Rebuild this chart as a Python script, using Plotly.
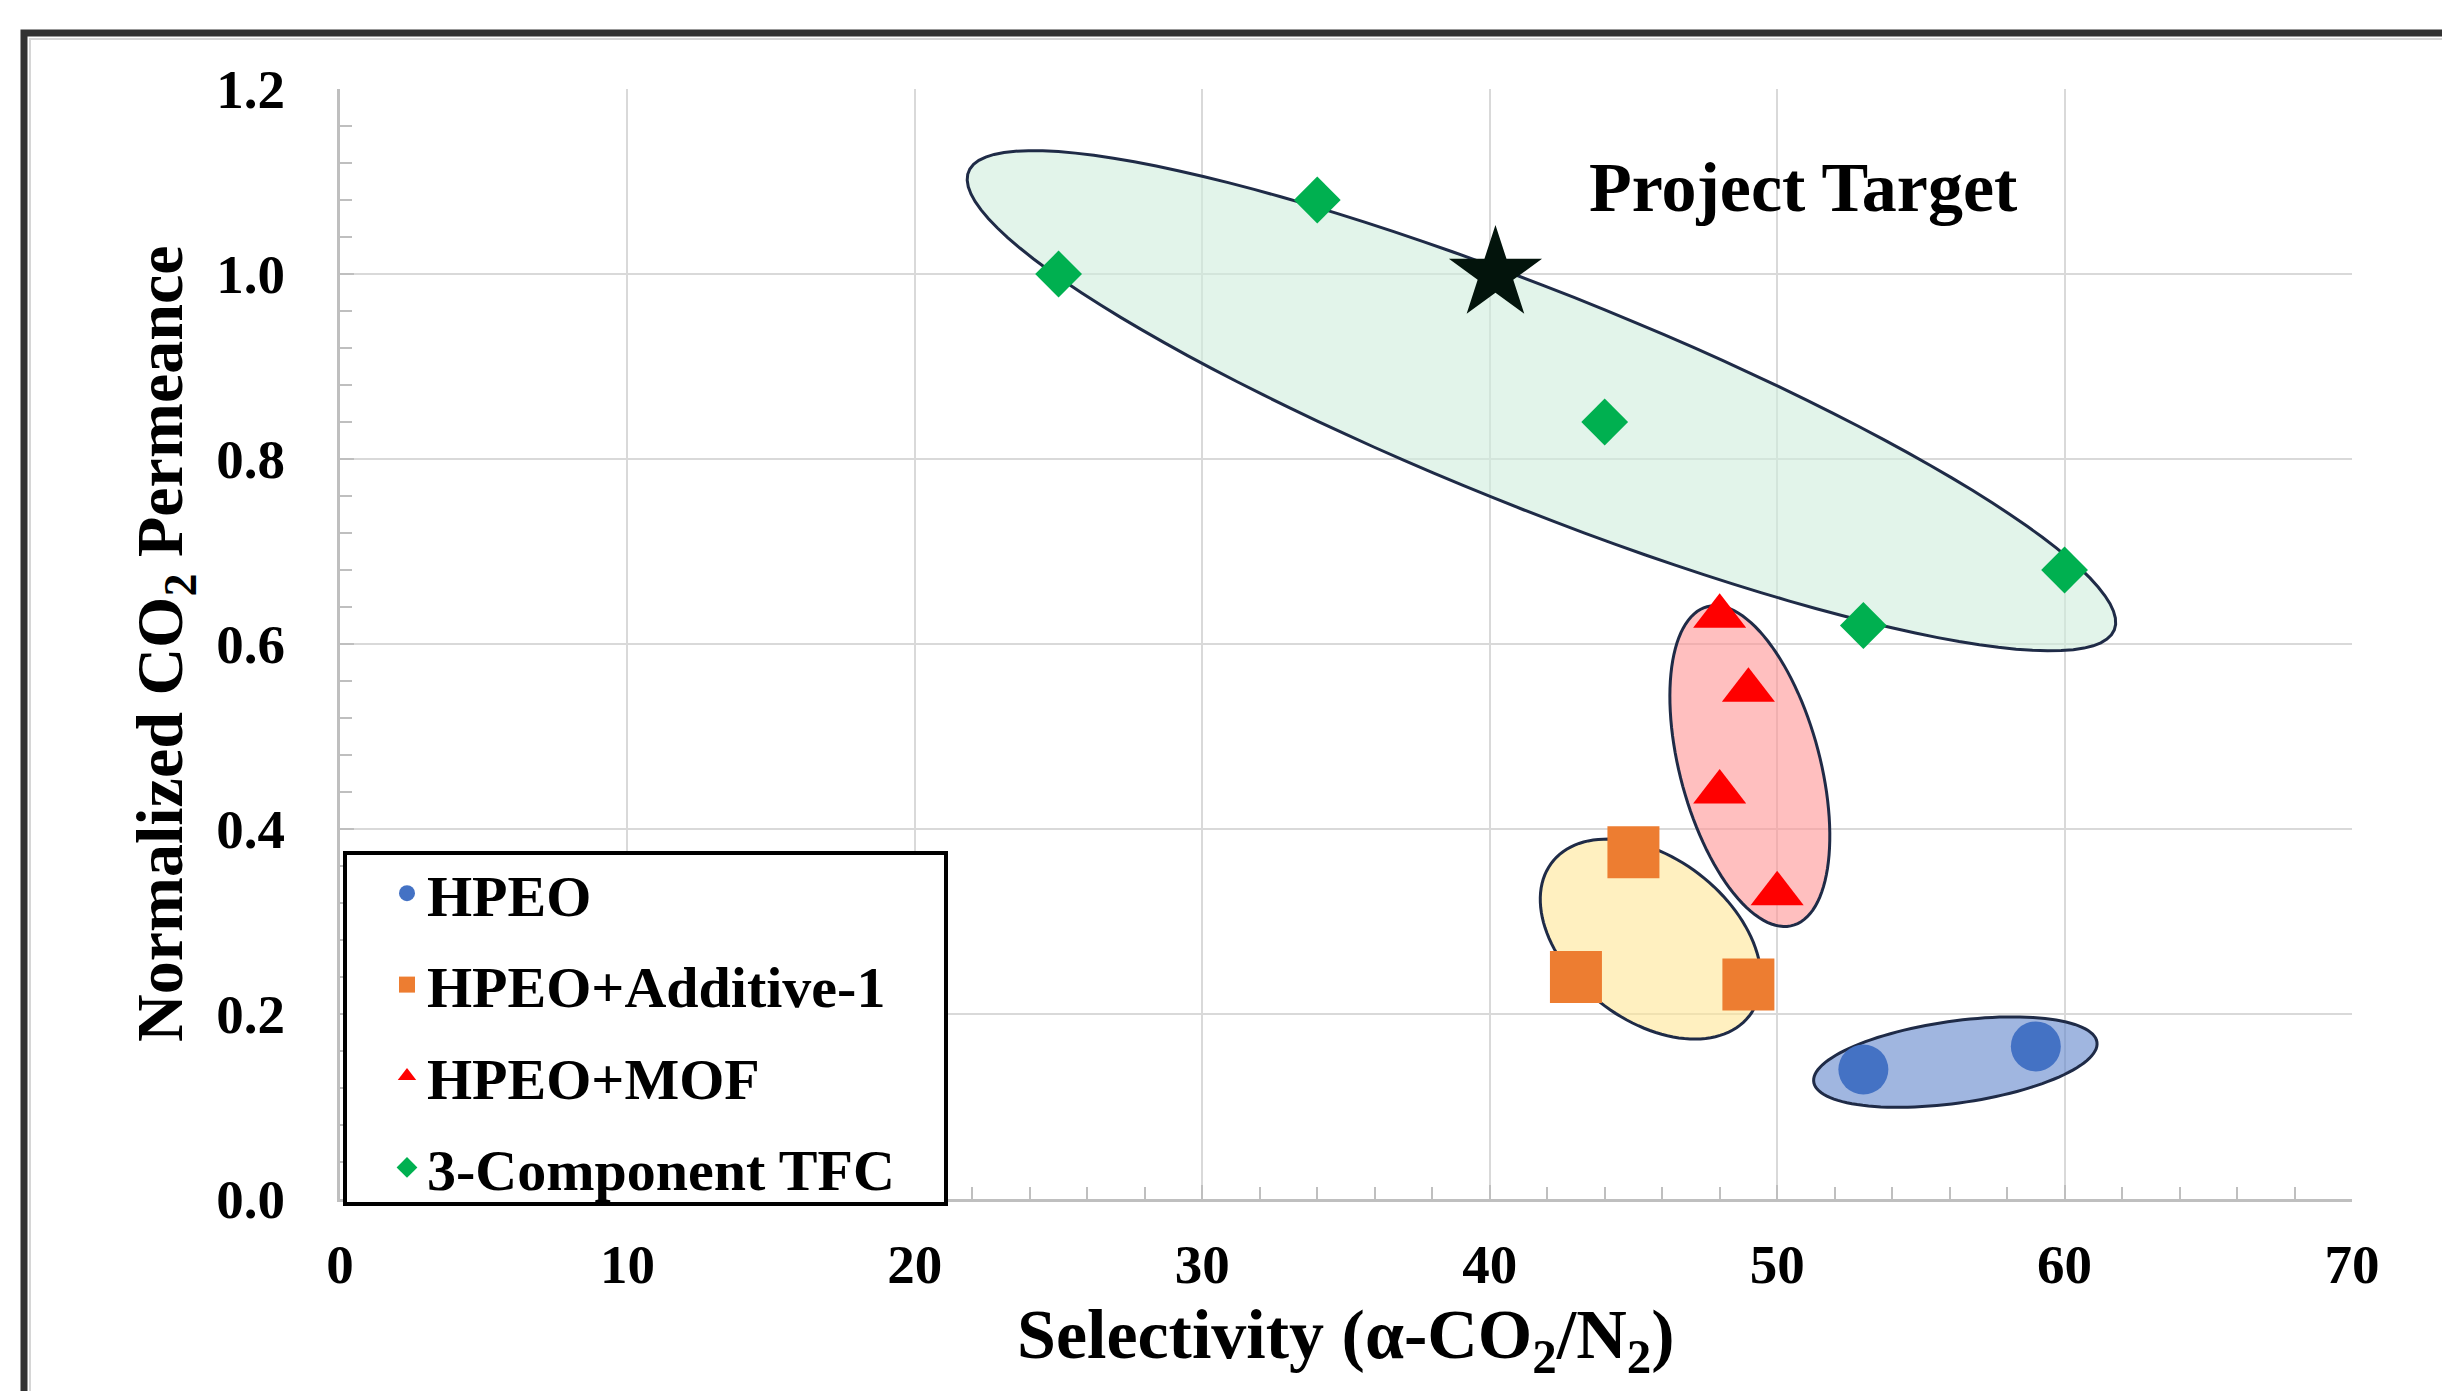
import numpy as np
import plotly.graph_objects as go

# --- values ---
series_names = ['HPEO', 'HPEO+Additive-1', 'HPEO+MOF', '3-Component TFC']

hpeo_x = [53.0, 59.0]
hpeo_y = [0.14, 0.165]

additive_x = [45.0, 43.0, 49.0]
additive_y = [0.375, 0.24, 0.232]

mof_x = [48.0, 49.0, 48.0, 50.0]
mof_y = [0.63, 0.55, 0.44, 0.33]

tfc_x = [25.0, 34.0, 44.0, 53.0, 60.0]
tfc_y = [1.0, 1.08, 0.84, 0.62, 0.68]

target_x = [40.2]
target_y = [1.0]
target_label = 'Project Target'

x_range = [0, 70]
y_range = [0, 1.2]

# --- figure geometry (pixels) ---
W, H = 2442, 1391
L, R, T, B = 340, 90, 89, 192
plot_w = W - L - R
plot_h = H - T - B
kx = plot_w / (x_range[1] - x_range[0])   # px per x unit
ky = plot_h / (y_range[1] - y_range[0])   # px per y unit

SERIF = 'Liberation Serif'
NAVY = '#1f2b47'


def px_to_paper_x(px):
    return (px - L) / plot_w


def px_to_paper_y(py):
    return (H - B - py) / plot_h


def ellipse_path(cx, cy, a_px, b_px, angle_deg, n=120):
    """ellipse drawn in pixel space, returned as an svg path in data units"""
    phi = np.radians(angle_deg)
    t = np.linspace(0, 2 * np.pi, n)
    dx = a_px * np.cos(t) * np.cos(phi) - b_px * np.sin(t) * np.sin(phi)
    dy = a_px * np.cos(t) * np.sin(phi) + b_px * np.sin(t) * np.cos(phi)
    xs = cx + dx / kx
    ys = cy + dy / ky
    pts = [f'{x:.4f},{y:.5f}' for x, y in zip(xs, ys)]
    return 'M' + 'L'.join(pts) + 'Z'


# group outlines: centre (data), semi-axes (px), tilt (deg), fill
group_ellipses = [
    dict(c=(41.8, 0.863), a=617, b=108, ang=-21.8, fill='rgba(207,237,220,0.6)'),
    dict(c=(49.05, 0.468), a=165, b=70, ang=105, fill='rgba(255,148,148,0.6)'),
    dict(c=(45.6, 0.281), a=125, b=81, ang=-38, fill='rgba(255,230,150,0.6)'),
    dict(c=(56.2, 0.148), a=143, b=41, ang=8, fill='rgba(97,133,203,0.6)'),
]

fig = go.Figure()

fig.add_trace(go.Scatter(x=hpeo_x, y=hpeo_y, mode='markers', name=series_names[0],
                         legendgroup='g1',
                         marker=dict(symbol='circle', size=50, color='#4472c4')))
fig.add_trace(go.Scatter(x=additive_x, y=additive_y, mode='markers', name=series_names[1],
                         legendgroup='g2',
                         marker=dict(symbol='square', size=52, color='#ed7d31')))
fig.add_trace(go.Scatter(x=mof_x, y=mof_y, mode='markers', name=series_names[2],
                         legendgroup='g3',
                         marker=dict(symbol='triangle-up', size=46, color='#ff0000')))
fig.add_trace(go.Scatter(x=tfc_x, y=tfc_y, mode='markers', name=series_names[3],
                         legendgroup='g4',
                         marker=dict(symbol='diamond', size=36, color='#00b050')))
fig.add_trace(go.Scatter(x=target_x, y=target_y, mode='markers', name=target_label,
                         showlegend=False,
                         marker=dict(symbol='star', size=70, color='#03140c')))

shapes = []
for e in group_ellipses:
    shapes.append(dict(type='path', xref='x', yref='y', layer='between',
                       path=ellipse_path(e['c'][0], e['c'][1], e['a'], e['b'], e['ang']),
                       fillcolor=e['fill'], line=dict(color=NAVY, width=3)))

# outer frame of the picture
shapes.append(dict(type='rect', xref='paper', yref='paper', layer='below',
                   x0=px_to_paper_x(24), x1=px_to_paper_x(2600),
                   y0=px_to_paper_y(1500), y1=px_to_paper_y(33),
                   line=dict(color='#333333', width=7), fillcolor='rgba(0,0,0,0)'))
shapes.append(dict(type='rect', xref='paper', yref='paper', layer='below',
                   x0=px_to_paper_x(30), x1=px_to_paper_x(2600),
                   y0=px_to_paper_y(1500), y1=px_to_paper_y(39),
                   line=dict(color='#d6d6d6', width=2), fillcolor='rgba(0,0,0,0)'))
# legend box
shapes.append(dict(type='rect', xref='paper', yref='paper', layer='above',
                   x0=px_to_paper_x(345), x1=px_to_paper_x(946),
                   y0=px_to_paper_y(1204), y1=px_to_paper_y(853),
                   line=dict(color='black', width=4), fillcolor='white'))

axis_common = dict(
    showgrid=True, gridcolor='#d9d9d9', gridwidth=2,
    showline=True, linecolor='#bfbfbf', linewidth=3,
    ticks='inside', ticklen=14, tickwidth=2, tickcolor='#bfbfbf',
    zeroline=False,
    tickfont=dict(family=SERIF, size=55, color='black', weight='bold'),
)

fig.update_layout(
    width=W, height=H,
    margin=dict(l=L, r=R, t=T, b=B),
    paper_bgcolor='white', plot_bgcolor='white',
    xaxis=dict(range=x_range, dtick=10, tick0=0, ticklabelstandoff=15,
               minor=dict(dtick=2, ticks='inside', ticklen=12, tickwidth=2,
                          tickcolor='#bfbfbf', showgrid=False),
               **axis_common),
    yaxis=dict(range=y_range, dtick=0.2, tick0=0, tickformat='.1f', ticklabelstandoff=41,
               minor=dict(dtick=0.04, ticks='inside', ticklen=12, tickwidth=2,
                          tickcolor='#bfbfbf', showgrid=False),
               **axis_common),
    shapes=shapes,
    showlegend=True,
    legend=dict(x=px_to_paper_x(387), y=px_to_paper_y(849), xanchor='left', yanchor='top',
                bgcolor='rgba(0,0,0,0)', borderwidth=0, tracegroupgap=13,
                font=dict(family=SERIF, size=58, color='black', weight='bold')),
    annotations=[
        dict(text=target_label, x=50.9, y=1.094, xref='x', yref='y', showarrow=False,
             font=dict(family=SERIF, size=70, color='black', weight='bold')),
        dict(text='Selectivity (α-CO<sub>2</sub>/N<sub>2</sub>)', xref='paper', yref='paper',
             x=0.5, y=px_to_paper_y(1340), xanchor='center', yanchor='middle', showarrow=False,
             font=dict(family=SERIF, size=70, color='black', weight='bold')),
        dict(text='Normalized CO<sub>2</sub> Permeance', xref='paper', yref='paper',
             x=px_to_paper_x(164), y=0.5, xanchor='center', yanchor='middle', textangle=-90,
             showarrow=False,
             font=dict(family=SERIF, size=66, color='black', weight='bold')),
    ],
)

fig.write_html('out.html', config={'displayModeBar': False},
               post_script="document.body.style.margin='0px';")
